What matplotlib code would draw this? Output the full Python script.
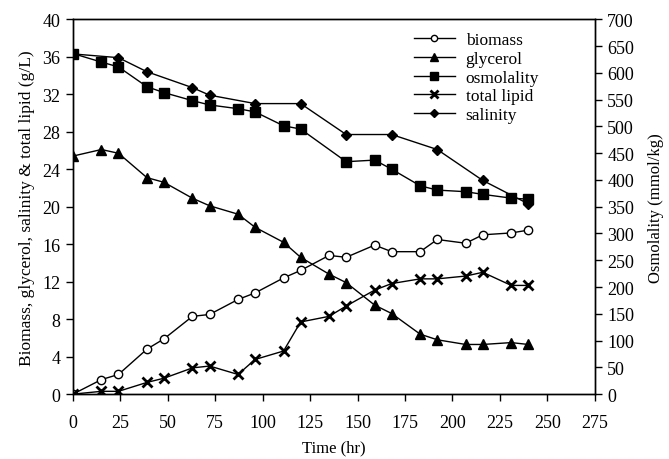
import numpy as np
import matplotlib.pyplot as plt

plt.rcParams["font.family"] = ["Liberation Serif", "DejaVu Serif"]

# sampling times (hr)
time = [0, 15, 24, 39, 48, 63, 72, 87, 96, 111, 120, 135, 144,
        159, 168, 183, 192, 207, 216, 231, 240]

biomass = [0, 1.55, 2.1, 4.8, 5.9, 8.3, 8.5, 10.1, 10.8, 12.4, 13.2, 14.8, 14.6,
           15.9, 15.2, 15.2, 16.5, 16.1, 17.0, 17.2, 17.5]
glycerol = [25.4, 26.1, 25.7, 23.1, 22.6, 20.9, 20.1, 19.2, 17.8, 16.2, 14.6, 12.8, 11.9,
            9.5, 8.6, 6.4, 5.8, 5.3, 5.3, 5.5, 5.3]
total_lipid = [0, 0.3, 0.3, 1.25, 1.7, 2.8, 3.0, 2.1, 3.7, 4.6, 7.7, 8.3, 9.4,
               11.1, 11.8, 12.3, 12.3, 12.6, 13.0, 11.6, 11.6]

# osmolality (mmol/kg), right axis
osmo_time = [0, 15, 24, 39, 48, 63, 72, 87, 96, 111, 120, 144,
             159, 168, 183, 192, 207, 216, 231, 240]
osmolality = [636, 620, 611, 574, 563, 548, 540, 533, 527, 501, 495, 434,
              437, 420, 389, 381, 378, 373, 366, 364]

# salinity (g/L), left axis
sal_time = [0, 24, 39, 63, 72, 96, 120, 144, 168, 192, 216, 240]
salinity = [36.3, 35.9, 34.4, 32.7, 31.9, 31.0, 31.0, 27.7, 27.7, 26.1, 22.8, 20.3]

fig = plt.figure(figsize=(6.69, 4.6), dpi=100)
ax = fig.add_axes([0.109, 0.141, 0.780, 0.815])
ax2 = ax.twinx()

lw = 1.0
ms = 6
l1, = ax.plot(time, biomass, "-o", color="black", mfc="white", mec="black",
              lw=lw, ms=ms, mew=1.0, label="biomass")
l2, = ax.plot(time, glycerol, "-^", color="black", lw=lw, ms=ms + 1, label="glycerol")
l3, = ax2.plot(osmo_time, osmolality, "-s", color="black", lw=lw, ms=ms + 1,
               label="osmolality")
l4, = ax.plot(time, total_lipid, "-x", color="black", lw=lw, ms=ms + 1, mew=2.0,
              label="total lipid")
l5, = ax.plot(sal_time, salinity, "-D", color="black", lw=lw, ms=ms - 0.5,
              label="salinity")

ax.set_xlim(0, 275)
ax.set_ylim(0, 40)
ax2.set_ylim(0, 700)
ax.set_xticks(np.arange(0, 276, 25))
ax.set_yticks(np.arange(0, 41, 4))
ax2.set_yticks(np.arange(0, 701, 50))

for a in (ax, ax2):
    a.tick_params(direction="out", length=5, width=1, labelsize=13, pad=4)
    for s in a.spines.values():
        s.set_linewidth(1.0)
ax.tick_params(axis="x", pad=9)

ax.set_xlabel("Time (hr)", fontsize=12, labelpad=6)
ax.set_ylabel("Biomass, glycerol, salinity & total lipid (g/L)", fontsize=12.5,
              labelpad=5)
ax2.set_ylabel("Osmolality (mmol/kg)", fontsize=12, labelpad=10)

ax.legend(handles=[l1, l2, l3, l4, l5], loc="upper left",
          bbox_to_anchor=(0.628, 1.0), frameon=False, fontsize=12.5,
          handlelength=2.4, handletextpad=0.6, labelspacing=0.14,
          borderaxespad=0.35, markerscale=0.75)

fig.savefig("out.png", dpi=100)
